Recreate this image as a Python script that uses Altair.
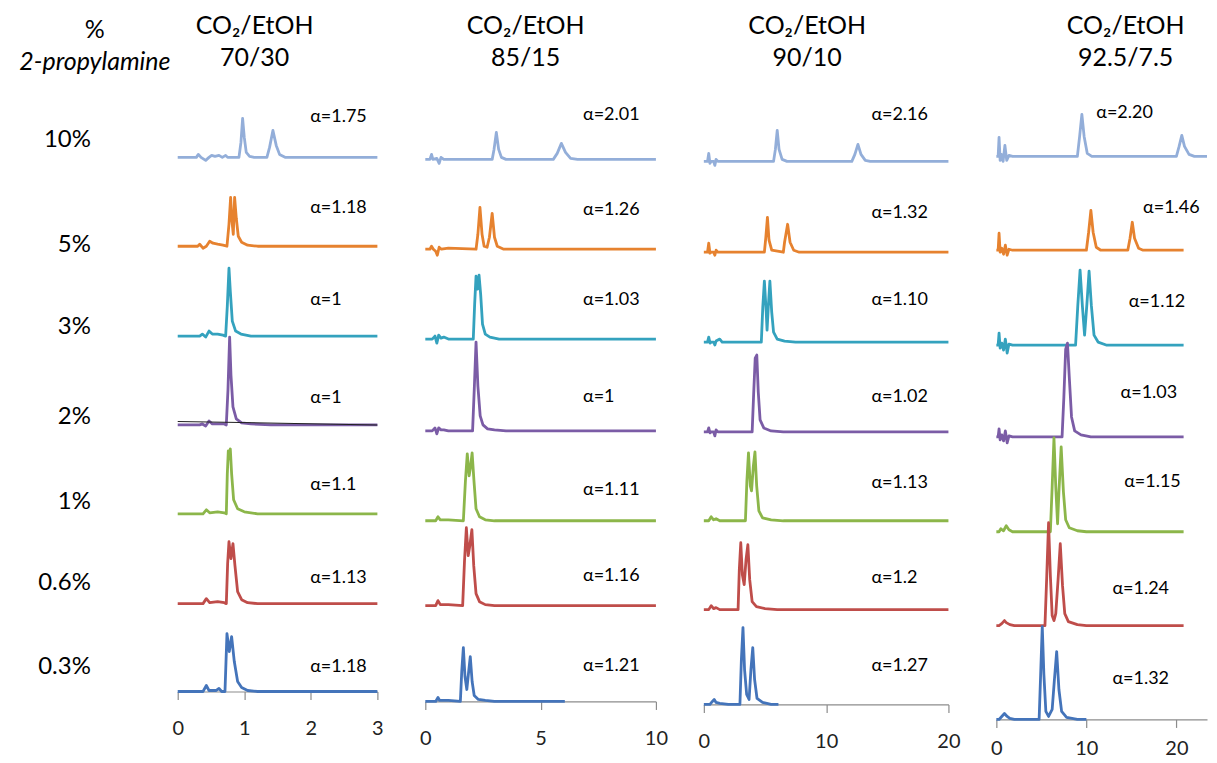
import altair as alt
import pandas as pd

ROWS = ["10%", "5%", "3%", "2%", "1%", "0.6%", "0.3%"]
COLORS = ["#93AED9", "#E6822F", "#34A2BE", "#7B5CA6", "#8CB64A", "#BF4D4A", "#4474BA"]

HEAD_C1 = ["CO₂/EtOH", "70/30"]
HEAD_C2 = ["CO₂/EtOH", "85/15"]
HEAD_C3 = ["CO₂/EtOH", "90/10"]
HEAD_C4 = ["CO₂/EtOH", "92.5/7.5"]

ALPHA_C1 = ["α=1.75", "α=1.18", "α=1", "α=1", "α=1.1", "α=1.13", "α=1.18"]
ALPHA_C2 = ["α=2.01", "α=1.26", "α=1.03", "α=1", "α=1.11", "α=1.16", "α=1.21"]
ALPHA_C3 = ["α=2.16", "α=1.32", "α=1.10", "α=1.02", "α=1.13", "α=1.2", "α=1.27"]
ALPHA_C4 = ["α=2.20", "α=1.46", "α=1.12", "α=1.03", "α=1.15", "α=1.24", "α=1.32"]

# label anchor positions (time units, signal units)
ALPHA_X_C1 = [1.99] * 7
ALPHA_X_C2 = [6.84] * 7
ALPHA_X_C3 = [13.7] * 7
ALPHA_X_C4 = [11.1, 16.3, 14.7, 13.8, 14.2, 12.9, 12.9]
ALPHA_Y_C1 = [575, 484, 392, 294, 207, 114, 25]
ALPHA_Y_C2 = [587, 492, 402, 305, 212, 126, 36]
ALPHA_Y_C3 = [590, 492, 405, 308, 222, 127, 39]
ALPHA_Y_C4 = [607, 512, 418, 327, 238, 131, 40]

ROW_LABEL_Y = [552, 447, 365, 275, 190, 109, 25]

# baseline offsets of the stacked chromatograms (signal units)
BASE_C1 = [535, 446, 356, 267, 178, 88, 0]
BASE_C2 = [543, 453, 363, 271, 181, 96, 0]
BASE_C3 = [544, 453, 363, 273, 184, 95, 0]
BASE_C4 = [564, 470, 375, 283, 188, 94, 0]

# chromatograms: (retention time [min], signal above baseline)
C1_10 = [(0, 0), (0.28, 0), (0.31, 3), (0.35, 0), (0.42, -3), (0.47, 0), (0.51, 2), (0.56, 1), (0.62, 2), (0.67, 0), (0.72, 2), (0.75, 0), (0.92, 0), (0.95, 15), (0.975, 39), (1.0, 20), (1.03, 5), (1.08, 1), (1.15, 0), (1.34, 0), (1.38, 10), (1.43, 27), (1.48, 12), (1.53, 3), (1.62, 0), (3, 0)]
C1_5 = [(0, 0), (0.3, 0), (0.33, 2), (0.38, -2), (0.43, 0), (0.48, 5), (0.53, 3), (0.6, 2), (0.68, 1), (0.74, 0), (0.77, 22), (0.795, 49), (0.815, 25), (0.835, 12), (0.855, 49), (0.88, 28), (0.91, 10), (0.96, 4), (1.05, 1), (1.2, 0), (3, 0)]
C1_3 = [(0, 0), (0.33, 0), (0.37, 2), (0.42, -1), (0.47, 5), (0.52, 2), (0.6, 2), (0.68, 1), (0.72, 0), (0.745, 30), (0.77, 68), (0.79, 45), (0.82, 15), (0.87, 5), (0.95, 2), (1.1, 0), (3, 0)]
C1_2 = [(0, 0), (0.33, 0), (0.37, 1), (0.42, -1), (0.47, 4), (0.52, 1), (0.6, 1), (0.7, 1), (0.73, 0), (0.755, 35), (0.78, 88), (0.8, 50), (0.83, 18), (0.88, 6), (0.96, 2), (1.1, 1), (1.4, 0), (3, 0)]
C1_2_REF = [(0, 3.5), (3, 0)]
C1_1 = [(0, 0), (0.38, 0), (0.43, 4), (0.48, 1), (0.6, 2), (0.7, 1), (0.73, 0), (0.745, 40), (0.76, 63), (0.775, 55), (0.79, 65), (0.81, 40), (0.84, 14), (0.9, 5), (1.0, 2), (1.2, 0), (3, 0)]
C1_06 = [(0, 0), (0.38, 0), (0.43, 5), (0.48, 1), (0.6, 2), (0.7, 1), (0.73, 0), (0.75, 40), (0.77, 62), (0.8, 45), (0.83, 60), (0.86, 38), (0.9, 12), (0.96, 4), (1.05, 1), (1.2, 0), (3, 0)]
C1_03 = [(0, 0), (0.38, 0), (0.43, 6), (0.47, 1), (0.58, 1), (0.62, 3), (0.66, 0), (0.71, 0), (0.74, 58), (0.775, 40), (0.81, 55), (0.85, 30), (0.9, 10), (0.96, 4), (1.05, 1), (1.2, 0), (3, 0)]

C2_10 = [(0, 0), (0.2, 0), (0.27, 5), (0.33, 0), (0.5, 1), (0.6, -4), (0.68, 2), (0.8, 0), (2.9, 0), (2.98, 10), (3.08, 27), (3.18, 10), (3.3, 2), (3.5, 0), (5.55, 0), (5.72, 6), (5.9, 16), (6.08, 7), (6.3, 1), (6.6, 0), (10, 0)]
C2_5 = [(0, 0), (0.2, 0), (0.27, 3), (0.35, 0), (0.45, -2), (0.52, -6), (0.6, 2), (0.7, 0), (1.0, 1), (2.2, 0), (2.28, 15), (2.37, 42), (2.46, 15), (2.55, 3), (2.68, 2), (2.78, 12), (2.9, 36), (3.0, 12), (3.12, 3), (3.4, 0), (10, 0)]
C2_3 = [(0, 0), (0.3, 0), (0.42, 3), (0.5, -4), (0.58, 4), (0.68, 1), (0.8, 2), (1.0, 0), (2.08, 0), (2.14, 35), (2.2, 63), (2.27, 50), (2.33, 64), (2.4, 45), (2.48, 15), (2.6, 5), (2.8, 2), (3.2, 0), (10, 0)]
C2_2 = [(0, 0), (0.3, 0), (0.42, 3), (0.5, -3), (0.58, 3), (0.68, 1), (0.8, 1), (1.0, 0), (2.05, 0), (2.12, 40), (2.2, 89), (2.28, 45), (2.38, 15), (2.5, 6), (2.7, 2), (3.0, 1), (3.5, 0), (10, 0)]
C2_1 = [(0, 0), (0.45, 0), (0.55, 4), (0.65, 1), (1.0, 1), (1.65, 0), (1.74, 40), (1.82, 67), (1.9, 45), (1.95, 52), (2.03, 68), (2.11, 40), (2.2, 12), (2.35, 4), (2.6, 1), (3, 0), (10, 0)]
C2_06 = [(0, 0), (0.45, 0), (0.55, 5), (0.65, 1), (1.0, 1), (1.62, 0), (1.7, 45), (1.78, 78), (1.86, 50), (1.93, 60), (2.02, 76), (2.1, 40), (2.2, 12), (2.35, 4), (2.6, 1), (3, 0), (10, 0)]
C2_03 = [(0, 0), (0.45, 0), (0.55, 4), (0.62, 1), (1.0, 1), (1.52, 0), (1.58, 30), (1.65, 54), (1.72, 25), (1.8, 12), (1.88, 30), (1.95, 45), (2.03, 20), (2.12, 6), (2.3, 2), (2.6, 1), (3, 0), (6.05, 0)]

C3_10 = [(0, 0), (0.3, 0), (0.4, 8), (0.5, -2), (0.6, 0), (0.8, 0), (0.9, -4), (1.0, 2), (1.15, 0), (5.7, 0), (5.85, 12), (6.0, 31), (6.15, 12), (6.4, 2), (6.8, 0), (12.1, 0), (12.35, 7), (12.6, 17), (12.85, 7), (13.2, 1), (13.6, 0), (20, 0)]
C3_5 = [(0, 0), (0.3, 0), (0.4, 9), (0.5, -1), (0.6, 0), (0.8, 0), (0.9, -3), (1.0, 2), (1.15, 0), (4.95, 0), (5.07, 15), (5.2, 35), (5.33, 12), (5.55, 2), (6.5, 0), (6.6, 10), (6.85, 28), (7.05, 10), (7.35, 2), (7.8, 0), (20, 0)]
C3_3 = [(0, 0), (0.3, 0), (0.4, 5), (0.5, -1), (0.6, 0), (0.8, 0), (0.9, -3), (1.0, 1), (1.3, 3), (1.5, 0), (4.7, 0), (4.82, 35), (4.95, 61), (5.1, 30), (5.17, 12), (5.27, 35), (5.4, 61), (5.55, 30), (5.7, 10), (6.0, 3), (6.6, 1), (7.5, 0), (20, 0)]
C3_2 = [(0, 0), (0.3, 0), (0.4, 4), (0.5, -1), (0.6, 0), (0.8, 0), (0.9, -4), (1.0, 2), (1.15, 0), (3.95, 0), (4.08, 40), (4.2, 74), (4.33, 77), (4.45, 40), (4.6, 12), (4.9, 4), (5.5, 1), (6.5, 0), (20, 0)]
C3_1 = [(0, 0), (0.4, 0), (0.6, 4), (0.8, 1), (1.0, 2), (1.3, 0), (3.4, 0), (3.52, 40), (3.65, 68), (3.8, 35), (3.9, 30), (4.05, 55), (4.18, 69), (4.32, 35), (4.5, 10), (4.8, 3), (5.5, 1), (6.5, 0), (20, 0)]
C3_06 = [(0, 0), (0.4, 0), (0.6, 4), (0.8, 1), (1.0, 2), (1.3, 0), (2.8, 0), (2.9, 40), (3.02, 67), (3.15, 35), (3.3, 25), (3.45, 50), (3.6, 65), (3.75, 30), (3.95, 8), (4.3, 3), (5, 1), (6, 0), (20, 0)]
C3_03 = [(0, 0), (0.5, 0), (0.7, 3), (0.85, 5), (1.0, 2), (1.3, 1), (2.0, 0), (2.95, 0), (3.07, 45), (3.2, 77), (3.33, 35), (3.5, 10), (3.7, 5), (3.85, 35), (4.0, 57), (4.15, 25), (4.35, 6), (4.8, 2), (5.5, 0), (6.1, 0)]

C4_10 = [(0, 0), (0.2, 0), (0.3, 19), (0.42, -4), (0.55, 2), (0.75, -5), (0.95, 11), (1.15, -4), (1.4, 1), (1.8, 0), (9.0, 0), (9.25, 20), (9.5, 42), (9.75, 20), (10.1, 3), (10.6, 0), (20.0, 0), (20.3, 10), (20.6, 21), (20.9, 10), (21.4, 2), (22.0, 0), (23.4, 0)]
C4_5 = [(0, 0), (0.2, 0), (0.3, 17), (0.42, -2), (0.6, 2), (0.8, -4), (1.0, 5), (1.2, -5), (1.4, 1), (1.8, 0), (10.0, 0), (10.25, 18), (10.5, 40), (10.75, 18), (11.1, 3), (11.6, 0), (14.6, 0), (14.85, 12), (15.1, 28), (15.35, 12), (15.8, 2), (16.3, 0), (20.8, 0)]
C4_3 = [(0, 0), (0.2, 0), (0.3, 12), (0.42, -3), (0.6, 2), (0.8, -5), (1.0, 6), (1.2, -8), (1.4, 1), (1.8, 0), (8.8, 0), (9.05, 40), (9.3, 75), (9.55, 40), (9.8, 10), (10.05, 40), (10.3, 74), (10.55, 40), (10.85, 10), (11.3, 3), (12.2, 0), (20.8, 0)]
C4_2 = [(0, 0), (0.2, 0), (0.3, 8), (0.42, -3), (0.6, 2), (0.8, -4), (1.0, 6), (1.2, -6), (1.4, 1), (1.8, 0), (7.3, 0), (7.5, 40), (7.7, 88), (7.9, 94), (8.1, 60), (8.35, 20), (8.7, 6), (9.4, 2), (10.5, 0), (20.8, 0)]
C4_1 = [(0, 0), (0.3, 0), (0.5, 3), (0.8, 1), (1.1, 6), (1.4, 2), (1.8, 0), (6.0, 0), (6.2, 45), (6.4, 94), (6.6, 45), (6.8, 8), (6.95, 40), (7.2, 85), (7.45, 40), (7.7, 12), (8.1, 4), (9.0, 1), (10, 0), (20.8, 0)]
C4_06 = [(0, 0), (0.3, 0), (0.6, 2), (0.9, 5), (1.1, 3), (1.5, 1), (2.0, 0), (5.4, 0), (5.6, 50), (5.8, 103), (6.0, 50), (6.2, 10), (6.4, 5), (6.6, 12), (6.85, 45), (7.1, 82), (7.35, 40), (7.6, 12), (8.0, 4), (9, 1), (10, 0), (20.8, 0)]
C4_03 = [(0, 0), (0.3, 0), (0.6, 3), (0.9, 6), (1.2, 3), (1.5, 1), (2.0, 0), (4.75, 0), (4.92, 45), (5.1, 93), (5.28, 45), (5.5, 8), (5.8, 3), (6.2, 10), (6.45, 40), (6.7, 68), (6.95, 30), (7.25, 8), (7.8, 2), (9, 0), (10, 0)]

TRACES_C1 = [C1_10, C1_5, C1_3, C1_2, C1_1, C1_06, C1_03]
TRACES_C2 = [C2_10, C2_5, C2_3, C2_2, C2_1, C2_06, C2_03]
TRACES_C3 = [C3_10, C3_5, C3_3, C3_2, C3_1, C3_06, C3_03]
TRACES_C4 = [C4_10, C4_5, C4_3, C4_2, C4_1, C4_06, C4_03]

FONT = "Lato"
AXIS_GREY = "#8C8C8C"


def panel(traces, bases, alphas, ax, ay, xdom, ticks, width, height, header, hdx,
          label_pad=19, extra=None):
    rows = []
    for i, tr in enumerate(traces):
        for k, (t, h) in enumerate(tr):
            rows.append({"t": t, "y": bases[i] + h, "row": ROWS[i], "k": k})
    df = pd.DataFrame(rows)
    xsc = alt.Scale(domain=xdom, nice=False, zero=False)
    ysc = alt.Scale(domain=[0, height], nice=False, zero=False)
    xaxis = alt.Axis(values=ticks, title=None, grid=False, domainColor=AXIS_GREY,
                     tickColor=AXIS_GREY, tickSize=8, domainWidth=1.2, tickWidth=1.2,
                     labelFontSize=20, labelFont=FONT, labelColor="#222222",
                     labelPadding=label_pad, labelFlush=False, format="d")
    lines = alt.Chart(df).mark_line(strokeWidth=2.8, strokeJoin="round").encode(
        x=alt.X("t:Q", scale=xsc, axis=xaxis),
        y=alt.Y("y:Q", scale=ysc, axis=None),
        color=alt.Color("row:N", scale=alt.Scale(domain=ROWS, range=COLORS), legend=None),
        order=alt.Order("k:Q"),
    )
    tdf = pd.DataFrame({"t": ax, "y": ay, "txt": alphas})
    texts = alt.Chart(tdf).mark_text(align="left", baseline="middle", fontSize=18,
                                     font=FONT, color="black").encode(
        x=alt.X("t:Q", scale=xsc), y=alt.Y("y:Q", scale=ysc), text="txt:N")
    layers = [lines]
    if extra is not None:
        edf = pd.DataFrame([{"t": t, "y": extra[0] + h, "k": k} for k, (t, h) in enumerate(extra[1])])
        layers.append(alt.Chart(edf).mark_line(color="#222222", strokeWidth=1.1).encode(
            x=alt.X("t:Q", scale=xsc), y=alt.Y("y:Q", scale=ysc), order="k:Q"))
    layers.append(texts)
    return alt.layer(*layers).properties(
        width=width, height=height,
        title=alt.TitleParams(text=header, fontSize=25, font=FONT, fontWeight="normal",
                              lineHeight=32, anchor="middle", dx=hdx, offset=30, color="black"))


p1 = panel(TRACES_C1, BASE_C1, ALPHA_C1, ALPHA_X_C1, ALPHA_Y_C1, [0, 3], [0, 1, 2, 3], 200, 592, HEAD_C1, -23,
           extra=(BASE_C1[3], C1_2_REF))
p2 = panel(TRACES_C2, BASE_C2, ALPHA_C2, ALPHA_X_C2, ALPHA_Y_C2, [0, 10], [0, 5, 10], 231, 602, HEAD_C2, -15)
p3 = panel(TRACES_C3, BASE_C3, ALPHA_C3, ALPHA_X_C3, ALPHA_Y_C3, [0, 20], [0, 10, 20], 245, 605, HEAD_C3, -19)
p4 = panel(TRACES_C4, BASE_C4, ALPHA_C4, ALPHA_X_C4, ALPHA_Y_C4, [0, 23.4], [0, 10, 20], 211, 620, HEAD_C4, 24,
           label_pad=11)

ldf = pd.DataFrame({"x": [83] * len(ROWS), "y": ROW_LABEL_Y, "row": ROWS})
labels = alt.Chart(ldf).mark_text(align="right", baseline="middle", fontSize=24, font=FONT,
                                  color="black").encode(
    x=alt.X("x:Q", scale=alt.Scale(domain=[0, 122], nice=False), axis=None),
    y=alt.Y("y:Q", scale=alt.Scale(domain=[0, 592], nice=False), axis=None),
    text="row:N",
).properties(width=122, height=592,
             title=alt.TitleParams(text="%", subtitle="2-propylamine", fontSize=25, font=FONT,
                                   fontWeight="normal", color="black", subtitleFont=FONT,
                                   subtitleFontSize=25, subtitleFontStyle="italic",
                                   subtitleColor="black", subtitlePadding=7,
                                   anchor="middle", dx=26, offset=26))

chart = alt.hconcat(labels, p1, p2, p3, p4, spacing=48, bounds="flush").properties(
    padding={"left": 0, "right": 0, "top": 5, "bottom": 0}
).configure_view(stroke=None)

chart.save("out.html", embed_options={"renderer": "svg", "actions": False})
